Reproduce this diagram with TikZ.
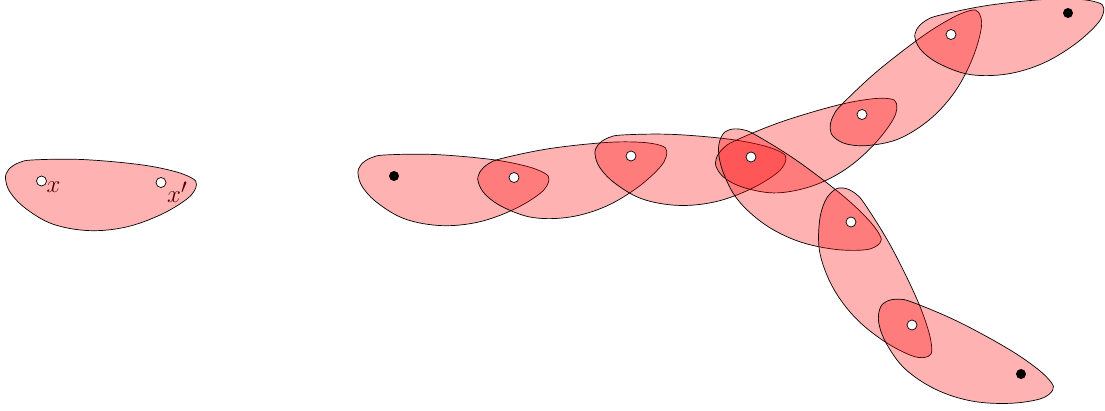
\documentclass[tikz,border=0pt]{standalone}
\usetikzlibrary{calc}
\tikzset{
  vtx/.style={circle, draw=black, fill=white, inner sep=0pt, minimum size=10pt, line width=0.7pt},
  bvtx/.style={circle, fill=black, inner sep=0pt, minimum size=10pt},
  blob/.style={draw=black, line width=0.7pt, fill=red, fill opacity=0.3, draw opacity=1},
  lbl/.style={anchor=north west, inner sep=0pt, font=\Huge}
}
\newcommand\hyperblob[2]{%
  \path let \p1=($(#2)-(#1)$) in \pgfextra{\pgfmathsetmacro\hbang{atan2(\y1,\x1)}\xdef\hbangle{\hbang}};
  \begin{scope}[shift={(#1)}, rotate=\hbangle]
    \draw[blob] plot[smooth cycle, tension=0.6] coordinates {
      (-36,-2) (-33,-11) (-23,-18) (-8,-21) (40,-22) (95,-18) (130,-12) (150,-5)
      (155,2) (147,15) (120,32) (85,45) (48,49) (12,43) (-15,28) (-31,12)};
  \end{scope}
}
\begin{document}
\begin{tikzpicture}[x=1pt,y=-1pt]
  \useasboundingbox (0,0) rectangle (1105,410);
  % vertex positions
  \coordinate (vx) at (41.5,181);
  \coordinate (vxp) at (161,182.5);
  \coordinate (A) at (394,176);
  \coordinate (B) at (514,177.5);
  \coordinate (C) at (631,156);
  \coordinate (D) at (751,157);
  \coordinate (E) at (862,114.5);
  \coordinate (F) at (951,34.5);
  \coordinate (G) at (1068,13);
  \coordinate (H) at (851,222);
  \coordinate (I) at (912,325);
  \coordinate (J) at (1021,374);
  % labels (under the fill)
  \node[lbl] (lx) at ($(vx)+(5,1)$) {$x$};
  \node[lbl] (lxp) at ($(vxp)+(6,-1)$) {$x'$};
  % hyperedges
  \hyperblob{vx}{vxp}
  \hyperblob{A}{B}
  \hyperblob{B}{C}
  \hyperblob{C}{D}
  \hyperblob{D}{E}
  \hyperblob{E}{F}
  \hyperblob{F}{G}
  \hyperblob{D}{H}
  \hyperblob{H}{I}
  \hyperblob{I}{J}
  % vertices
  \node[vtx] (nvx) at (vx) {};
  \node[vtx] (nvxp) at (vxp) {};
  \node[bvtx] (nA) at (A) {};
  \node[vtx] (nB) at (B) {};
  \node[vtx] (nC) at (C) {};
  \node[vtx] (nD) at (D) {};
  \node[vtx] (nE) at (E) {};
  \node[vtx] (nF) at (F) {};
  \node[bvtx] (nG) at (G) {};
  \node[vtx] (nH) at (H) {};
  \node[vtx] (nI) at (I) {};
  \node[bvtx] (nJ) at (J) {};
\end{tikzpicture}
\end{document}
